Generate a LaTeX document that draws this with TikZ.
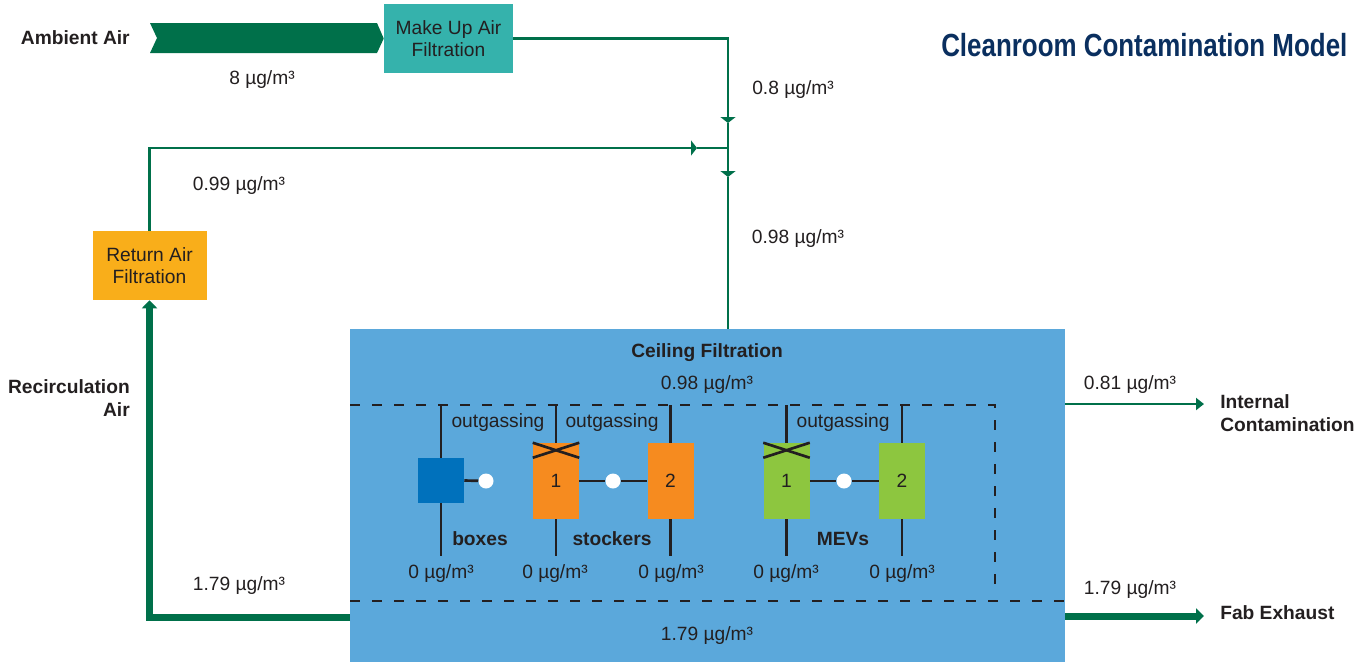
\documentclass[tikz,border=0pt]{standalone}
\usepackage{fontspec}
\setmainfont{Liberation Sans}
\usetikzlibrary{arrows.meta,positioning}

\definecolor{fabgreen}{RGB}{0,112,74}
\definecolor{teal}{RGB}{53,178,172}
\definecolor{retorange}{RGB}{249,174,26}
\definecolor{stkorange}{RGB}{246,139,31}
\definecolor{mevgreen}{RGB}{141,198,63}
\definecolor{boxblue}{RGB}{0,113,188}
\definecolor{ceilblue}{RGB}{91,168,219}
\definecolor{navy}{RGB}{10,47,95}
\definecolor{txtgray}{RGB}{35,31,32}

\tikzset{
  flow/.style={draw=fabgreen, line width=1.7pt},
  bigflow/.style={draw=fabgreen, line width=5.25pt},
  flowtip/.style={-{Triangle[width=11.25pt,length=4.5pt]}},
  bigtip/.style={-{Triangle[width=11.25pt,length=6pt]}},
  filterbox/.style={inner sep=0, align=center, minimum height=51.75pt},
  unitbox/.style={inner sep=0, minimum width=34.5pt, minimum height=57pt},
  wire/.style={draw=txtgray, line width=2pt},
  hole/.style={circle, fill=white, inner sep=0, minimum size=11.25pt},
  dashline/.style={draw=txtgray, line width=1.8pt, dash pattern=on 7.5pt off 9pt},
  boldlbl/.style={inner sep=0, font=\fontsize{14.4}{17}\selectfont\bfseries},
  conc/.style={yshift=-2.25pt}
}

\begin{document}
\begin{tikzpicture}[x=0.75pt,y=-0.75pt,
  every node/.style={font=\fontsize{14.4}{17}\selectfont, text=txtgray}]

    \useasboundingbox (0,0) rectangle (1359,662);

    % title
    \node[anchor=west, inner sep=0, font=\fontsize{24}{28}\selectfont\bfseries, text=navy] (title) at (941,45)
        {\scalebox{0.81}[1]{Cleanroom Contamination Model}};

    % filters
    \node[filterbox, fill=teal, minimum width=96.75pt] (makeup) at (448.5,38.5) {Make Up Air\\Filtration};
    \node[filterbox, fill=retorange, minimum width=85.5pt] (retair) at (149.5,265.5) {Return Air\\Filtration};
    \node[fill=ceilblue, inner sep=0, minimum width=536.25pt, minimum height=249.75pt] (ceiling) at (707.5,495.5) {};

    \node[boldlbl, anchor=east] (ambient) at (130,38) {Ambient Air};
    \node[boldlbl, anchor=east, align=right] (recirc) at (130,398) {Recirculation\\Air};
    \node[boldlbl, anchor=west, align=left] (internal) at (1220,413) {Internal\\Contamination};
    \node[boldlbl, anchor=west] (fabex) at (1220,613) {Fab Exhaust};

    % ambient air flow
    \fill[fabgreen] (150,23) -- (377,23) -- (makeup.west) -- (377,53) -- (150,53) -- (157,38) -- cycle;

    \coordinate (join) at (728,148);
    \coordinate (mutip) at (728,123);
    \coordinate (ratip) at (697,148);
    \coordinate (cftip) at (728,177);
    \coordinate (rcout) at (350,617);
    \coordinate (intout) at (1065,404);
    \coordinate (fabout) at (1065,616);

    \draw[flow, flowtip] (makeup.east) -| (mutip);
    \draw[flow] (mutip) -- (join);
    \draw[flow, flowtip] (retair.north) |- (ratip);
    \draw[flow] (ratip) -- (join);
    \draw[flow, flowtip] (join) -- (cftip);
    \draw[flow] (cftip) -- (cftip |- ceiling.north);

    \draw[bigflow, bigtip] (rcout) -| (retair.south);
    \draw[flow, -{Triangle[width=9pt,length=6pt]}, shorten >=12pt] (intout) -- (intout -| internal.west);
    \draw[bigflow, bigtip, shorten >=12pt] (fabout) -- (fabout -| fabex.west);

    % concentrations
    \node[conc] (amb) at (262,77) {8 µg/m³};
    \node[conc] (mu) at (793,87) {0.8 µg/m³};
    \node[conc] (ra) at (239,183) {0.99 µg/m³};
    \node[conc] (cf) at (798,236) {0.98 µg/m³};
    \node[conc] (rc) at (239,583) {1.79 µg/m³};
    \node[conc] (ic) at (1130,382) {0.81 µg/m³};
    \node[conc] (fe) at (1130,587) {1.79 µg/m³};

    \node[boldlbl, conc] (ceiltitle) at (707,350) {Ceiling Filtration};
    \node[conc] (ceilin) at (707,382) {0.98 µg/m³};
    \node[conc] (ceilout) at (707,633) {1.79 µg/m³};

    % fab area
    \draw[dashline] (350,405) -| (995,590);
    \draw[dashline] (350,601) -- (1065,601);

    \coordinate (dtop) at (0,405);
    \coordinate (dlow) at (0,556);

    \node[unitbox, fill=boxblue, minimum height=33.75pt] (box) at (441,480.5) {};
    \node[unitbox, fill=stkorange] (stk1) at (556,481) {\raisebox{-4.5pt}{1}};
    \node[unitbox, fill=stkorange] (stk2) at (670.5,481) {\raisebox{-4.5pt}{2}};
    \node[unitbox, fill=mevgreen] (mev1) at (786.5,481) {\raisebox{-4.5pt}{1}};
    \node[unitbox, fill=mevgreen] (mev2) at (902,481) {\raisebox{-4.5pt}{2}};

    \foreach \u in {box,stk1,stk2,mev1,mev2}{
        \draw[wire] (\u.north) -- (\u.north |- dtop);
        \draw[wire] (\u.south) -- (\u.south |- dlow);
    }
    \foreach \u in {stk1,mev1}{
        \draw[wire] (\u.north west) -- ([yshift=-11.25pt]\u.north east);
        \draw[wire] ([yshift=-11.25pt]\u.north west) -- (\u.north east);
    }

    \node[hole] (h1) at (486,481) {};
    \node[hole] (h2) at (613,481) {};
    \node[hole] (h3) at (844,481) {};
    \draw[wire] (box.east) -- (h1);
    \draw[wire] (stk1.east) -- (h2) -- (stk2.west);
    \draw[wire] (mev1.east) -- (h3) -- (mev2.west);

    \node[conc] (og1) at (498,420) {outgassing};
    \node[conc] (og2) at (612,420) {outgassing};
    \node[conc] (og3) at (843,420) {outgassing};

    \node[boldlbl] (lboxes) at (480,539) {boxes};
    \node[boldlbl] (lstk) at (612,539) {stockers};
    \node[boldlbl] (lmev) at (843,539) {MEVs};

    \foreach \x/\n in {441/z1,555/z2,671/z3,786/z4,902/z5}
        \node[conc] (\n) at (\x,571) {0 µg/m³};

\end{tikzpicture}
\end{document}
